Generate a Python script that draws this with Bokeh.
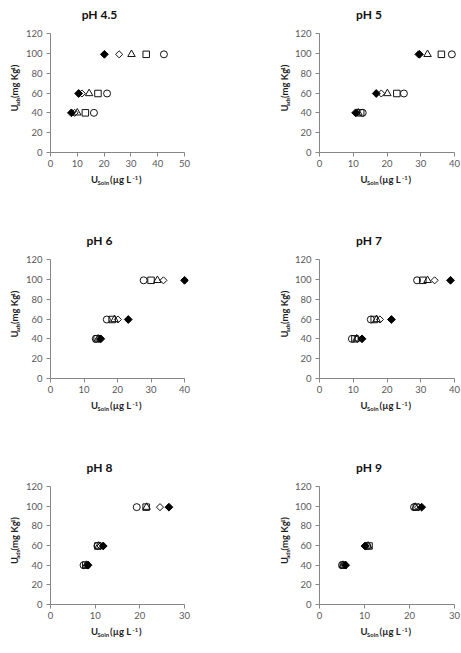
from math import pi

from bokeh.embed import file_html
from bokeh.layouts import column, row
from bokeh.models import FixedTicker, Label, Range1d
from bokeh.plotting import figure
from bokeh.resources import INLINE

# ---- data -------------------------------------------------------------
PANEL_TITLES = ["pH 4.5", "pH 5", "pH 6", "pH 7", "pH 8", "pH 9"]
X_MAX = [50, 40, 40, 40, 30, 30]
X_STEP = 10
Y_TICKS = [0, 20, 40, 60, 80, 100, 120]

# adsorbed U (mg/kg), one value per loading level
U_ADS = [40, 59.5, 99]

# solution U (ug/L) for each series; one row per pH panel, one value per loading level
SOLN_FILLED_DIAMOND = [
    [7.8, 10.5, 20.1],
    [10.7, 16.8, 29.6],
    [15.0, 23.2, 40.0],
    [12.6, 21.3, 38.8],
    [8.4, 11.8, 26.5],
    [5.8, 10.1, 22.7],
]
SOLN_OPEN_DIAMOND = [
    [9.0, 11.7, 25.6],
    [11.0, 18.3, 29.3],
    [14.5, 20.1, 33.7],
    [11.3, 17.9, 34.1],
    [8.2, 11.2, 24.5],
    [5.5, 10.3, 21.9],
]
SOLN_TRIANGLE = [
    [10.0, 14.4, 30.2],
    [11.5, 20.1, 32.0],
    [14.2, 19.1, 31.9],
    [11.0, 16.9, 32.0],
    [8.0, 10.8, 21.5],
    [5.2, 10.8, 21.3],
]
SOLN_SQUARE = [
    [13.0, 17.7, 35.7],
    [12.2, 22.9, 36.1],
    [13.9, 18.4, 30.0],
    [10.5, 16.2, 30.6],
    [7.9, 10.6, 21.4],
    [5.3, 11.0, 21.5],
]
SOLN_CIRCLE = [
    [16.2, 21.1, 42.3],
    [12.8, 25.0, 39.2],
    [13.5, 16.8, 27.8],
    [9.6, 15.2, 28.9],
    [7.4, 10.5, 19.3],
    [5.0, 10.6, 21.0],
]

# ---- styling ----------------------------------------------------------
FONT = "Lato"
AXIS_GREY = "#868686"
TICK_TEXT = "#595959"
LABEL_TEXT = "#1e1e1e"
INK = "#111111"

# approximate advance widths (em) of the bold label font
EM = {
    "U": 0.70, "a": 0.52, "d": 0.58, "s": 0.43, " ": 0.22, "(": 0.32, ")": 0.32,
    "m": 0.86, "g": 0.52, "K": 0.68, "-": 0.36, "1": 0.58, "S": 0.53, "o": 0.58,
    "l": 0.26, "n": 0.58, "µ": 0.58, "L": 0.50,
}
MID = 0.387            # distance (em) from the baseline up to the middle of the line box
SCRIPT_SCALE = 0.62
SUB_DROP = 0.18
SUP_RISE = 0.36
SCRIPT_GAP = 1.0       # extra room after a sub/superscript, px
LABEL_SIZE = 9.5
TITLE_SIZE = 12
TICK_SIZE = "9.5px"

Y_LABEL = [("U", "n"), ("ads", "sub"), (" (mg Kg", "n"), ("-1", "sup"), (")", "n")]
X_LABEL = [("U", "n"), ("Soln", "sub"), (" (µg L", "n"), ("-1", "sup"), (")", "n")]

# cell geometry
COL_WIDTH = [230, 231]
FRAME_LEFT = [48, 87]          # frame offset from the cell's left edge
FRAME_W = [136, 137]
ROW_HEIGHT = [226, 227, 200]
FRAME_H = [119, 119, 118]
TITLE_H = 25                   # strip holding the panel title
TITLE_BASE = 19                # title baseline, from the cell top
AXIS_LEFT = 26                 # room for the y tick labels inside the chart figure
AXIS_TOP = 8
AXIS_BOTTOM = 20
EDGE_PAD = 4                   # keeps markers sitting on the x-axis end unclipped
YLAB_BASE = [18.0, 58.0]       # baseline of the rotated y label, from the cell's left edge
XLAB_BASE = 31                 # x label baseline below the x axis

SERIES = [
    (SOLN_CIRCLE, dict(marker="circle", size=7, fill_color=None, line_color=INK)),
    (SOLN_SQUARE, dict(marker="square", size=6.5, fill_color=None, line_color=INK)),
    (SOLN_TRIANGLE, dict(marker="triangle", size=7.5, fill_color=None, line_color=INK)),
    (SOLN_OPEN_DIAMOND, dict(marker="square", size=5, angle=pi / 4, fill_color=None, line_color=INK)),
    (SOLN_FILLED_DIAMOND, dict(marker="square", size=5.5, angle=pi / 4, fill_color="black", line_color="black")),
]


def text_width(s, size):
    return sum(EM.get(c, 0.55) for c in s) * size


def piece_advance(txt, kind, size):
    return text_width(txt, size) + (SCRIPT_GAP if kind != "n" else 0.0)


def text_strip(width, height):
    """A bare figure whose frame is the whole area; data units are pixels."""
    p = figure(
        width=width, height=height, output_backend="svg", toolbar_location=None,
        title=None, x_axis_location=None, y_axis_location=None,
        x_range=Range1d(0, width), y_range=Range1d(0, height),
        min_border=0, min_border_left=0, min_border_right=0,
        min_border_top=0, min_border_bottom=0,
        background_fill_color="white", border_fill_color="white",
    )
    p.outline_line_color = None
    p.grid.visible = False
    return p


def rich_label(p, pieces, cx, base, size, vertical=False):
    """Lay out text pieces with sub/superscripts on one baseline, centred at cx."""
    sizes = [size * SCRIPT_SCALE if kind != "n" else size for _, kind in pieces]
    total = sum(piece_advance(t, k, s) for (t, k), s in zip(pieces, sizes))
    pos = cx - total / 2
    for (txt, kind), s in zip(pieces, sizes):
        shift = {"n": 0.0, "sub": -SUB_DROP * size, "sup": SUP_RISE * size}[kind]
        across = shift + MID * s       # middle of this piece's line box above the baseline
        if vertical:
            lab = Label(x=base - across, y=pos, angle=pi / 2)
        else:
            lab = Label(x=pos, y=base + across)
        lab.update(
            text=txt, text_font=FONT, text_font_style="bold",
            text_font_size=f"{s:.1f}px", text_color=LABEL_TEXT,
            text_align="left", text_baseline="middle",
        )
        p.add_layout(lab)
        pos += piece_advance(txt, kind, s)


def chart(i, width, height, fw, fh):
    xmax = X_MAX[i]
    x_end = xmax * (fw + EDGE_PAD) / fw
    p = figure(
        width=width, height=height, output_backend="svg", toolbar_location=None,
        title=None, x_range=Range1d(0, x_end), y_range=Range1d(0, 120),
        min_border_left=AXIS_LEFT, min_border_right=width - AXIS_LEFT - fw - EDGE_PAD,
        min_border_top=AXIS_TOP, min_border_bottom=AXIS_BOTTOM,
        background_fill_color="white", border_fill_color="white",
    )
    p.outline_line_color = None
    p.grid.visible = False

    p.xaxis.ticker = FixedTicker(ticks=list(range(0, xmax + 1, X_STEP)))
    p.xaxis.bounds = (0, xmax)
    p.yaxis.ticker = FixedTicker(ticks=Y_TICKS)
    for ax in (p.xaxis[0], p.yaxis[0]):
        ax.axis_line_color = AXIS_GREY
        ax.major_tick_line_color = AXIS_GREY
        ax.major_tick_in = 0
        ax.major_tick_out = 4
        ax.minor_tick_line_color = None
        ax.major_label_text_font = FONT
        ax.major_label_text_font_size = TICK_SIZE
        ax.major_label_text_color = TICK_TEXT
    p.xaxis.major_label_standoff = 3
    p.yaxis.major_label_standoff = 4

    for soln, style in SERIES:
        p.scatter(soln[i], U_ADS, line_width=1, **style)
    return p


def panel(i):
    c, r = i % 2, i // 2
    cw, fl, fw = COL_WIDTH[c], FRAME_LEFT[c], FRAME_W[c]
    rh, fh = ROW_HEIGHT[r], FRAME_H[r]

    chart_h = AXIS_TOP + fh + AXIS_BOTTOM
    ylab_w = fl - AXIS_LEFT
    xlab_h = rh - TITLE_H - chart_h

    title = text_strip(cw, TITLE_H)
    title.add_layout(Label(
        x=fl + fw / 2 - 17, y=TITLE_H - TITLE_BASE + MID * TITLE_SIZE,
        text=PANEL_TITLES[i], text_font=FONT, text_font_style="bold",
        text_font_size=f"{TITLE_SIZE}px", text_color="#111111",
        text_align="center", text_baseline="middle",
    ))

    ylab = text_strip(ylab_w, chart_h)
    rich_label(ylab, Y_LABEL, AXIS_BOTTOM + fh / 2, YLAB_BASE[c], LABEL_SIZE, vertical=True)

    xlab = text_strip(cw, xlab_h)
    rich_label(xlab, X_LABEL, fl + fw / 2, xlab_h - (XLAB_BASE - AXIS_BOTTOM), LABEL_SIZE)

    main = chart(i, cw - ylab_w, chart_h, fw, fh)
    return column(title, row(ylab, main), xlab)


page = column(
    row(panel(0), panel(1)),
    row(panel(2), panel(3)),
    row(panel(4), panel(5)),
)

with open("out.html", "w") as f:
    f.write(file_html(page, INLINE))
